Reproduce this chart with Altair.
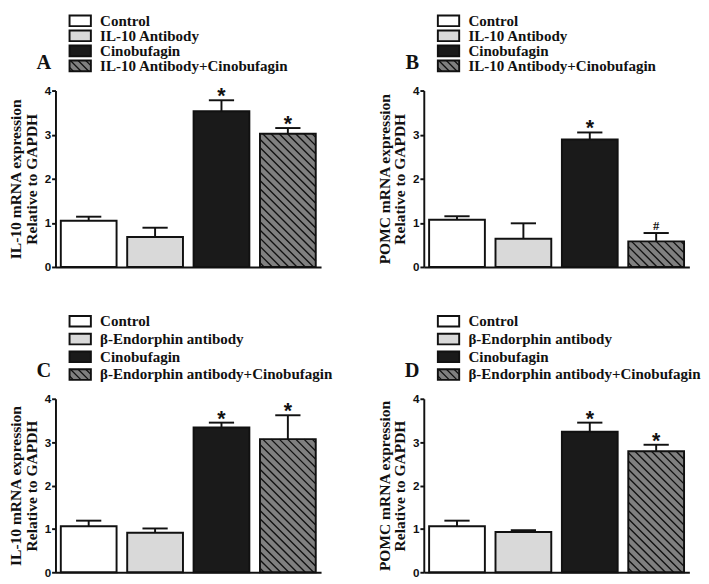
import altair as alt
import pandas as pd

groups_top = ["Control", "IL-10 Antibody", "Cinobufagin", "IL-10 Antibody+Cinobufagin"]
groups_bottom = ["Control", "β-Endorphin antibody", "Cinobufagin", "β-Endorphin antibody+Cinobufagin"]

mean_A = [1.05, 0.68, 3.53, 3.02]
sem_A = [0.09, 0.21, 0.25, 0.13]
sig_A = ["", "", "*", "*"]

mean_B = [1.07, 0.64, 2.89, 0.58]
sem_B = [0.08, 0.35, 0.16, 0.19]
sig_B = ["", "", "*", "#"]

mean_C = [1.06, 0.91, 3.34, 3.07]
sem_C = [0.13, 0.10, 0.11, 0.55]
sig_C = ["", "", "*", "*"]

mean_D = [1.06, 0.93, 3.24, 2.79]
sem_D = [0.13, 0.04, 0.21, 0.15]
sig_D = ["", "", "*", "*"]

y_ticks = [0, 1, 2, 3, 4]
fills = ["#ffffff", "#d9d9d9", "#1a1a1a", "#808080"]
INK = "#111111"

W = 274
HALF = 0.42
CAP = 0.19
HATCH_STEP = 8.5

RECT_PATH = "M-1,-0.5H1V0.5H-1Z"
NO_VIEW = alt.ViewBackground(stroke="transparent", strokeWidth=0, fill="transparent")


def legend_hatch_path(step=0.72):
    parts = []
    c = -1.5 + step / 2
    while c < 1.5:
        x0 = max(-1.0, c - 0.5)
        x1 = min(1.0, c + 0.5)
        if x1 > x0:
            parts.append(f"M{x0:.3f},{x0 - c:.3f}L{x1:.3f},{x1 - c:.3f}")
        c += step
    return "".join(parts)


HATCH_PATH = legend_hatch_path()


def hatch_segments(means, H):
    pxx = W / 4.0
    pxy = H / 4.0
    i = 3
    v = means[i]
    w = 2 * HALF * pxx
    hpx = v * pxy
    xl = i - HALF
    rows = []
    k = HATCH_STEP / 2
    while k < w + hpx:
        u0 = max(0.0, k - hpx)
        u1 = min(w, k)
        if u1 > u0:
            rows.append(dict(hx=xl + u0 / pxx, hy=(k - u0) / pxy,
                             hx2=xl + u1 / pxx, hy2=(k - u1) / pxy))
        k += HATCH_STEP
    return pd.DataFrame(rows)


def plot(groups, means, sems, sigs, ytitle, H):
    df = pd.DataFrame({"idx": list(range(4)), "group": groups, "mean": means,
                       "sem": sems, "sig": sigs})
    xs = alt.Scale(domain=[-0.5, 3.5], nice=False, zero=False)
    ys = alt.Scale(domain=[0, 4], nice=False)
    x_ax = alt.Axis(labels=False, ticks=False, title=None, grid=False,
                    domainWidth=2, domainColor=INK)
    y_ax = alt.Axis(values=y_ticks, format="d", grid=False, domainWidth=2,
                    domainColor=INK, tickWidth=2, tickColor=INK, tickSize=4,
                    labelPadding=1, labelFont="Liberation Sans",
                    labelFontWeight="bold", labelFontSize=12, labelColor=INK,
                    title=ytitle, titleFont="Liberation Serif",
                    titleFontWeight="bold", titleFontSize=16, titleColor=INK,
                    titlePadding=5, titleLineHeight=16)
    base = alt.Chart(df).transform_calculate(
        xl=alt.datum.idx - HALF, xr=alt.datum.idx + HALF,
        top=alt.datum.mean + alt.datum.sem,
        cl=alt.datum.idx - CAP, cr=alt.datum.idx + CAP)
    bars = base.mark_rect(stroke=INK, strokeWidth=2).encode(
        x=alt.X("xl:Q", scale=xs, axis=x_ax), x2="xr:Q",
        y=alt.Y("mean:Q", scale=ys, axis=y_ax), y2=alt.datum(0),
        fill=alt.Fill("idx:O", scale=alt.Scale(domain=[0, 1, 2, 3], range=fills), legend=None))
    hatch = alt.Chart(hatch_segments(means, H)).mark_rule(color=INK, strokeWidth=1.4).encode(
        x=alt.X("hx:Q", scale=xs, axis=x_ax), x2="hx2:Q",
        y=alt.Y("hy:Q", scale=ys, axis=y_ax), y2="hy2:Q")
    err = base.mark_rule(color=INK, strokeWidth=2).encode(
        x=alt.X("idx:Q", scale=xs, axis=x_ax),
        y=alt.Y("mean:Q", scale=ys, axis=y_ax), y2="top:Q")
    caps = base.mark_rule(color=INK, strokeWidth=2).encode(
        x=alt.X("cl:Q", scale=xs, axis=x_ax), x2="cr:Q",
        y=alt.Y("top:Q", scale=ys, axis=y_ax))
    stars = base.transform_filter(alt.datum.sig == "*").mark_text(
        font="Liberation Sans", fontWeight="bold", fontSize=22, color=INK,
        baseline="alphabetic", dy=3).encode(
        x=alt.X("idx:Q", scale=xs, axis=x_ax),
        y=alt.Y("top:Q", scale=ys, axis=y_ax), text="sig:N")
    hashes = base.transform_filter(alt.datum.sig == "#").mark_text(
        font="Liberation Serif", fontWeight="bold", fontSize=13, color=INK,
        baseline="alphabetic", dy=-3).encode(
        x=alt.X("idx:Q", scale=xs, axis=x_ax),
        y=alt.Y("top:Q", scale=ys, axis=y_ax), text="sig:N")
    return alt.layer(bars, hatch, err, caps, stars, hashes).properties(
        width=W, height=H, view=NO_VIEW)


def legend_chart(groups, letter, rng, h):
    ldf = pd.DataFrame({"idx": list(range(4)), "group": groups})
    yenc = alt.Y("idx:O",
                 scale=alt.Scale(type="point", domain=[0, 1, 2, 3], range=rng, padding=0),
                 axis=None)
    sq = alt.Chart(ldf).mark_point(shape=RECT_PATH, size=484, filled=True,
                                   stroke=INK, strokeWidth=2, opacity=1).encode(
        x=alt.value(25.5), y=yenc,
        fill=alt.Fill("idx:O", scale=alt.Scale(domain=[0, 1, 2, 3], range=fills), legend=None))
    hat = alt.Chart(ldf.iloc[[3]]).mark_point(shape=HATCH_PATH, size=484, filled=False,
                                              stroke=INK, strokeWidth=1.3, opacity=1).encode(
        x=alt.value(25.5), y=yenc)
    txt = alt.Chart(ldf).mark_text(align="left", baseline="middle", font="Liberation Serif",
                                   fontWeight="bold", fontSize=15.5, color=INK).encode(
        x=alt.value(46), y=yenc, text="group:N")
    let = alt.Chart(pd.DataFrame({"letter": [letter]})).mark_text(
        font="Liberation Serif", fontWeight="bold", fontSize=21, color=INK,
        align="center", baseline="alphabetic").encode(
        x=alt.value(-12), y=alt.value(rng[1] + 3), text="letter:N")
    return alt.layer(sq, hat, txt, let).properties(width=W, height=h, view=NO_VIEW)


def panel(groups, means, sems, sigs, letter, ytitle, rng, h, H, gap):
    return alt.vconcat(legend_chart(groups, letter, rng, h),
                       plot(groups, means, sems, sigs, ytitle, H), spacing=gap)


top_rng, top_h, top_H, top_gap = [6, 52.5], 66, 182, 6
bot_rng, bot_h, bot_H, bot_gap = [6, 61], 77, 179, 3

pA = panel(groups_top, mean_A, sem_A, sig_A, "A",
           ["IL-10 mRNA expression", "Relative to GAPDH"], top_rng, top_h, top_H, top_gap)
pB = panel(groups_top, mean_B, sem_B, sig_B, "B",
           ["POMC mRNA expression", "Relative to GAPDH"], top_rng, top_h, top_H, top_gap)
pC = panel(groups_bottom, mean_C, sem_C, sig_C, "C",
           ["IL-10 mRNA expression", "Relative to GAPDH"], bot_rng, bot_h, bot_H, bot_gap)
pD = panel(groups_bottom, mean_D, sem_D, sig_D, "D",
           ["POMC mRNA expression", "Relative to GAPDH"], bot_rng, bot_h, bot_H, bot_gap)

chart = alt.concat(pA, pB, pC, pD, columns=2,
                   spacing={"row": 40, "column": 45}).properties(
    padding={"left": 0, "top": -6, "right": 0, "bottom": 0}
).configure_view(strokeWidth=0, stroke=None).configure(background="white")

chart.save("out.html", embed_options={"renderer": "svg", "actions": False})
